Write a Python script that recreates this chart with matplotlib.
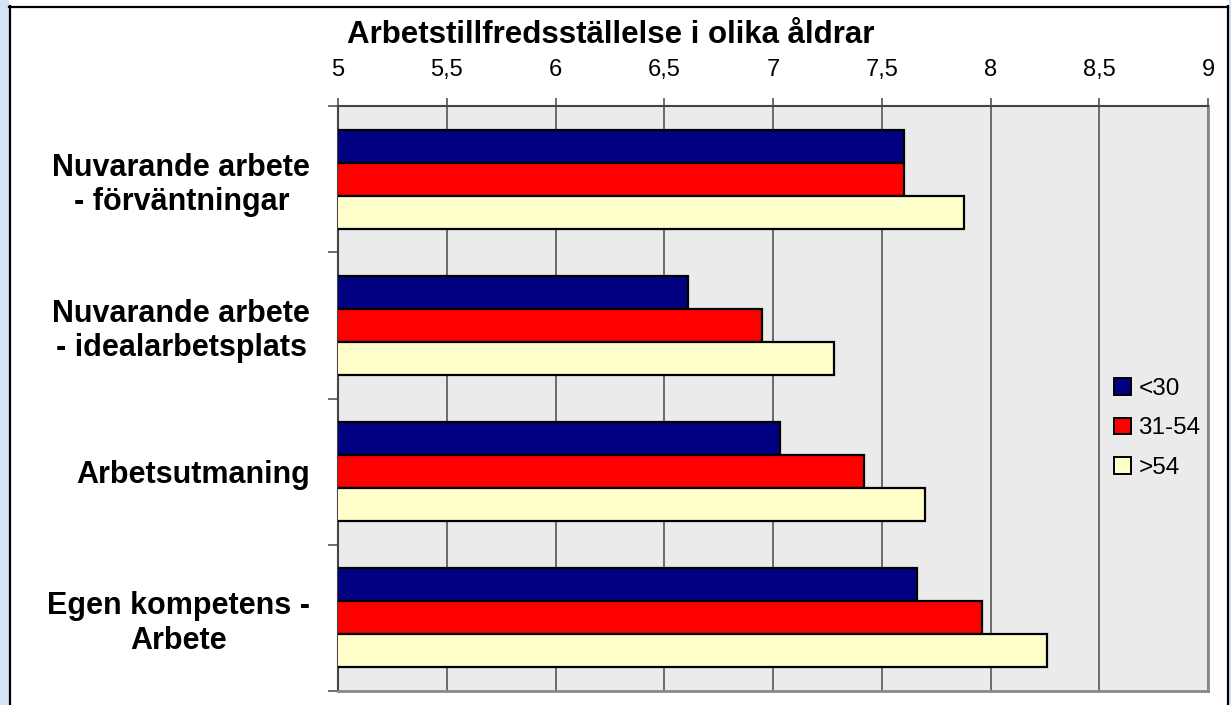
import matplotlib
matplotlib.use('Agg')
import matplotlib.pyplot as plt
import matplotlib.patches as mpatches
import numpy as np

plt.rcParams['font.family'] = ['Liberation Sans', 'DejaVu Sans']

# Data
categories = ['Nuvarande arbete\n- förväntningar', 'Nuvarande arbete\n- idealarbetsplats',
              'Arbetsutmaning', 'Egen kompetens -\nArbete']
groups = ['<30', '31-54', '>54']
under_30 = [7.60, 6.61, 7.03, 7.66]
mid_31_54 = [7.60, 6.95, 7.42, 7.96]
over_54 = [7.88, 7.28, 7.70, 8.26]
xticks = [5, 5.5, 6, 6.5, 7, 7.5, 8, 8.5, 9]
xtick_labels = ['5', '5,5', '6', '6,5', '7', '7,5', '8', '8,5', '9']

colors = ['#000080', '#ff0000', '#ffffcc']

W, H = 1231, 705
fig = plt.figure(figsize=(W / 100, H / 100), dpi=100)
fig.patch.set_facecolor('white')

# Outer frame decoration
fig.patches.append(mpatches.Rectangle((0, 0), 9 / W, 1, transform=fig.transFigure,
                                      facecolor='#d4e4f4', edgecolor='none', zorder=0))
fig.patches.append(mpatches.Rectangle((1229 / W, 0), 2 / W, 1, transform=fig.transFigure,
                                      facecolor='#d4e4f4', edgecolor='none', zorder=0))
fig.add_artist(plt.Line2D([9.5 / W, 9.5 / W], [0, 1 - 6 / H], color='black', lw=1.6))
fig.add_artist(plt.Line2D([1227.5 / W, 1227.5 / W], [0, 1 - 6 / H], color='black', lw=1.6))
fig.add_artist(plt.Line2D([9 / W, 1228 / W], [1 - 7 / H, 1 - 7 / H], color='black', lw=1.6))

ax = fig.add_axes([338 / W, 1 - 691 / H, 870 / W, 585 / H])
ax.set_facecolor('#ebebeb')

y = np.arange(len(categories))
h = 0.226
series = [under_30, mid_31_54, over_54]
for i, (vals, lab, c) in enumerate(zip(series, groups, colors)):
    ax.barh(y + (i - 1) * h, vals, height=h, color=c, edgecolor='black',
            linewidth=1.6, label=lab, zorder=3)

ax.set_xlim(5, 9)
ax.set_ylim(len(categories) - 0.5, -0.5)

ax.xaxis.tick_top()
ax.set_xticks(xticks)
ax.set_xticklabels(xtick_labels, fontsize=17)
ax.tick_params(axis='x', direction='out', length=6, width=1.2, color='#555555', pad=12)
ax.grid(axis='x', color='#555555', linewidth=1.2, zorder=1)

# category boundaries as major ticks, labels at centres
ax.set_yticks(np.arange(-0.5, len(categories) + 0.5, 1))
ax.set_yticklabels([])
ax.set_yticks(y, minor=True)
ax.set_yticklabels(categories, minor=True, fontsize=22, fontweight='bold',
                   ha='right', multialignment='center', linespacing=1.2)
ax.tick_params(axis='y', which='major', direction='out', length=7.5, width=1.2, color='#555555')
ax.tick_params(axis='y', which='minor', length=0, pad=20)

for s in ['top', 'left']:
    ax.spines[s].set_color('#444444')
    ax.spines[s].set_linewidth(1.5)
for s in ['right', 'bottom']:
    ax.spines[s].set_color('#888888')
    ax.spines[s].set_linewidth(2)

fig.text(611 / W, 1 - 35 / H, 'Arbetstillfredsställelse i olika åldrar', ha='center', va='center',
         fontsize=22.5, fontweight='bold')

leg = fig.legend(loc='upper left', bbox_to_anchor=(1114 / W, 1 - 378 / H), frameon=False,
                 fontsize=17.5, handlelength=0.68, handleheight=0.68, handletextpad=0.33,
                 labelspacing=0.72, borderpad=0, borderaxespad=0)
for p in leg.get_patches():
    p.set_linewidth(1.4)

fig.savefig('out.png', dpi=100)
